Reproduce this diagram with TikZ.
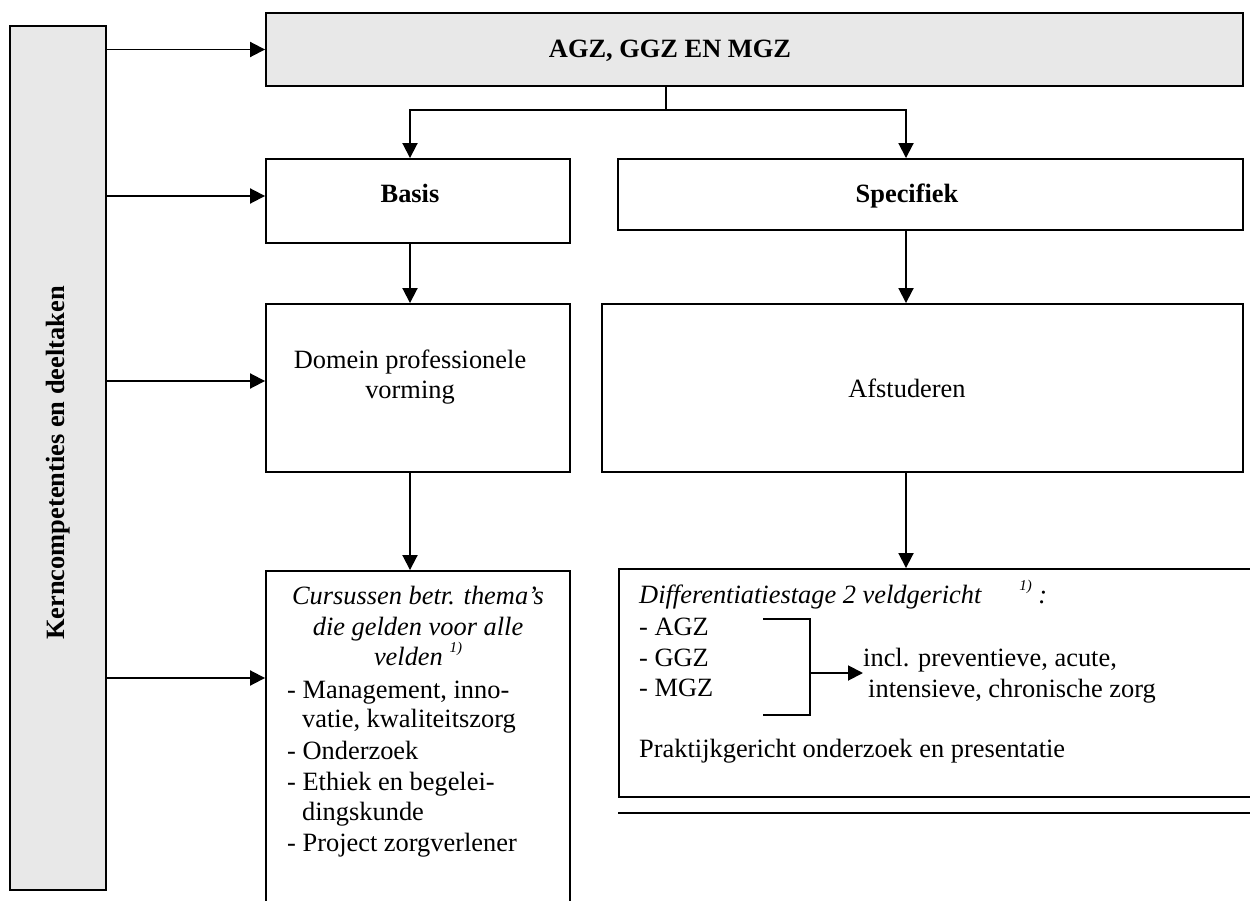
\documentclass[tikz,border=0pt]{standalone}
\usepackage{fontspec}
\setmainfont{Liberation Serif}
\usetikzlibrary{arrows.meta,calc}
\definecolor{boxgray}{RGB}{232,232,232}
\newcommand\fs{\fontsize{26.4}{30.5}\selectfont}
\newcommand\supr[1]{\raisebox{1.0ex}{\fontsize{15}{15}\selectfont\itshape #1}}
\tikzset{
  box/.style={draw, line width=1.9pt, inner sep=0pt, rectangle},
  graybox/.style={box, fill=boxgray},
  arr/.style={line width=1.9pt, -{Triangle[length=15pt,width=15pt]}},
  ln/.style={line width=1.9pt},
  txt/.style={inner sep=0pt, font=\fs},
  btxt/.style={inner sep=0pt, font=\fs\bfseries},
}
\begin{document}
\begin{tikzpicture}[x=1pt,y=-1pt]
\clip (0,0) rectangle (1250,901);
\fill[white] (0,0) rectangle (1250,901);
% boxes
\node[graybox, minimum width=96pt, minimum height=864pt] (kc) at (58,458) {};
\node[btxt, rotate=90] (kct) at (58,463) {Kerncompetenties en deeltaken};
\node[graybox, minimum width=977pt, minimum height=73pt] (top) at (754.5,49.5) {};
\node[btxt, anchor=base] (topt) at (670,58) {AGZ, GGZ EN MGZ};
\node[box, minimum width=304pt, minimum height=84pt] (basis) at (418,201) {};
\node[btxt, anchor=base] (basist) at (410,203) {Basis};
\node[box, minimum width=625pt, minimum height=71pt] (spec) at (930.5,194.5) {};
\node[btxt, anchor=base] (spect) at (907,203) {Specifiek};
\node[box, minimum width=304pt, minimum height=168pt] (domein) at (418,388) {};
\node[txt, anchor=base] (dom1) at (410,368) {Domein professionele};
\node[txt, anchor=base] (dom2) at (410,398.5) {vorming};
\node[box, minimum width=641pt, minimum height=168pt] (afst) at (922.5,388) {};
\node[txt, anchor=base] (afstt) at (907,397) {Afstuderen};
\node[box, minimum width=304pt, minimum height=389pt] (curs) at (418,765.5) {};
\node[box, minimum width=681pt, minimum height=228pt] (diff) at (959.5,683) {};
% Cursussen text
\node[txt, anchor=base, font=\fs\itshape] (c1) at (418,604) {Cursussen betr. thema’s};
\node[txt, anchor=base, font=\fs\itshape] (c2) at (418,635) {die gelden voor alle};
\node[txt, anchor=base, font=\fs\itshape] (c3) at (418,665) {velden \supr{1)}};
\node[txt, anchor=base west] (c4) at (287,698) {- Management, inno-};
\node[txt, anchor=base west] (c5) at (302,727.5) {vatie, kwaliteitszorg};
\node[txt, anchor=base west] (c6) at (287,759) {- Onderzoek};
\node[txt, anchor=base west] (c7) at (287,790) {- Ethiek en begelei-};
\node[txt, anchor=base west] (c8) at (302,820) {dingskunde};
\node[txt, anchor=base west] (c9) at (287,851.5) {- Project zorgverlener};
% Differentiatie text
\node[txt, anchor=base west, font=\fs\itshape] (d1) at (639,603) {Differentiatiestage 2 veldgericht\hspace{38pt}\supr{1)} :};
\node[txt, anchor=base west] (d2) at (639,635) {- AGZ};
\node[txt, anchor=base west] (d3) at (639,666) {- GGZ};
\node[txt, anchor=base west] (d4) at (639,696) {- MGZ};
\node[txt, anchor=base west] (d5) at (863,666) {incl. preventieve, acute,};
\node[txt, anchor=base west] (d6) at (868,697) {intensieve, chronische zorg};
\node[txt, anchor=base west] (d7) at (639,757) {Praktijkgericht onderzoek en presentatie};
\draw[ln] ($(diff.south west)+(0,15)$) -- ++(700,0);
% bracket
\coordinate (brt) at (763,619);
\coordinate (brb) at (763,715);
\coordinate (brm) at (810,673);
\draw[ln] (brt) -- (brt -| brm) -- (brb -| brm) -- (brb);
\draw[arr] (brm) -- (d5.west |- brm);
% connectors
\coordinate (split) at (666,110);
\coordinate (colL) at (410,0);
\coordinate (colR) at (906,0);
\draw[ln] (top.south -| split) -- (split);
\draw[arr] (split) -| (basis.north -| colL);
\draw[arr] (split) -| (spec.north -| colR);
\draw[arr] (basis.south -| colL) -- (domein.north -| colL);
\draw[arr] (domein.south -| colL) -- (curs.north -| colL);
\draw[arr] (spec.south -| colR) -- (afst.north -| colR);
\draw[arr] (afst.south -| colR) -- (diff.north -| colR);
% from left panel
\draw[arr] (kc.east |- top.west) -- (top.west);
\draw[arr] (kc.east |- 0,196) -- (basis.west |- 0,196);
\draw[arr] (kc.east |- 0,381) -- (domein.west |- 0,381);
\draw[arr] (kc.east |- 0,678) -- (curs.west |- 0,678);
\end{tikzpicture}
\end{document}
